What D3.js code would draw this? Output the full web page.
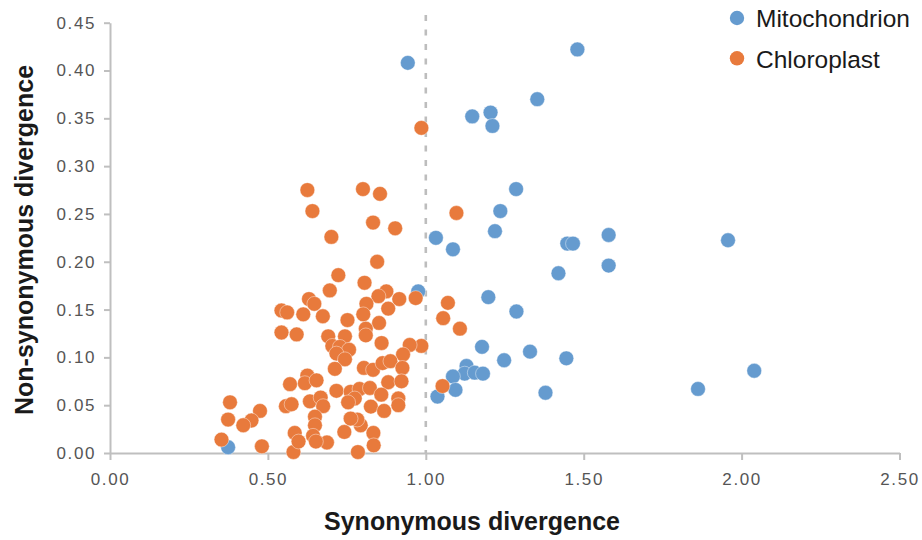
<!DOCTYPE html>
<html>
<head>
<meta charset="utf-8">
<script src="https://cdn.jsdelivr.net/npm/d3@7"></script>
<style>
  body { margin: 0; background: #fff; }
  svg { display: block; font-family: "Liberation Sans", Arial, sans-serif; }
</style>
</head>
<body>
<svg id="chart" width="922" height="540"></svg>
<script>
// series names / colours
const seriesNames = ['Mitochondrion', 'Chloroplast'];
const seriesColors = ['#659bcf', '#e87a3c'];

// [synonymous, non-synonymous]
const mitochondrion = [
  [0.943, 0.408], [1.480, 0.422], [1.353, 0.370], [1.147, 0.352], [1.205, 0.356],
  [1.211, 0.342], [1.286, 0.276], [1.236, 0.253], [1.032, 0.225], [1.219, 0.232],
  [1.086, 0.213], [1.448, 0.219], [1.466, 0.219], [1.579, 0.228], [1.579, 0.196],
  [1.420, 0.188], [0.976, 0.169], [1.198, 0.163], [1.287, 0.148], [1.178, 0.111],
  [1.330, 0.106], [1.445, 0.099], [1.248, 0.097], [1.129, 0.091], [1.123, 0.083],
  [1.155, 0.084], [1.181, 0.083], [1.086, 0.080], [1.094, 0.066], [1.037, 0.059],
  [1.379, 0.063], [1.862, 0.067], [1.957, 0.2225], [2.040, 0.086], [0.374, 0.006]
];

const chloroplast = [
  [0.986, 0.340], [1.097, 0.251], [0.625, 0.275], [0.801, 0.276], [0.855, 0.271],
  [0.641, 0.253], [0.833, 0.241], [0.903, 0.235], [0.701, 0.226], [0.846, 0.200],
  [0.723, 0.186], [0.806, 0.178], [0.696, 0.170], [0.875, 0.169], [0.850, 0.164],
  [0.916, 0.161], [0.968, 0.162], [0.630, 0.161], [0.647, 0.156], [0.812, 0.156],
  [0.881, 0.151], [0.543, 0.149], [0.561, 0.147], [0.612, 0.145], [0.674, 0.143],
  [0.752, 0.139], [0.802, 0.145], [1.070, 0.157], [1.055, 0.141], [1.108, 0.130],
  [0.986, 0.112], [1.053, 0.070], [0.852, 0.136], [0.810, 0.130], [0.810, 0.123],
  [0.543, 0.126], [0.591, 0.124], [0.691, 0.122], [0.744, 0.122], [0.704, 0.112],
  [0.728, 0.111], [0.757, 0.108], [0.717, 0.104], [0.744, 0.098], [0.860, 0.115],
  [0.949, 0.113], [0.928, 0.103], [0.804, 0.089], [0.833, 0.087], [0.863, 0.094],
  [0.888, 0.096], [0.926, 0.089], [0.712, 0.088], [0.881, 0.074], [0.923, 0.075],
  [0.570, 0.072], [0.625, 0.081], [0.617, 0.073], [0.654, 0.076], [0.717, 0.065],
  [0.762, 0.064], [0.790, 0.067], [0.823, 0.068], [0.859, 0.061], [0.775, 0.057],
  [0.754, 0.053], [0.826, 0.0485], [0.868, 0.044], [0.913, 0.057], [0.913, 0.050],
  [0.633, 0.054], [0.667, 0.058], [0.675, 0.049], [0.557, 0.049], [0.575, 0.051],
  [0.380, 0.053], [0.475, 0.044], [0.448, 0.034], [0.422, 0.029], [0.374, 0.035],
  [0.353, 0.014], [0.481, 0.007], [0.581, 0.001], [0.585, 0.021], [0.597, 0.012],
  [0.649, 0.038], [0.649, 0.029], [0.643, 0.018], [0.687, 0.011], [0.652, 0.012],
  [0.742, 0.022], [0.785, 0.001], [0.794, 0.029], [0.834, 0.021], [0.835, 0.008],
  [0.783, 0.035], [0.762, 0.036]
];

// axis ticks
const xTicks = [0, 0.5, 1, 1.5, 2, 2.5];
const yTicks = [0, 0.05, 0.1, 0.15, 0.2, 0.25, 0.3, 0.35, 0.4, 0.45];
const cutoff = 1.0;   // dashed reference line

// layout
const MARGIN = {left: 110, top: 22.7};
const AXIS_COLOR = '#bfbfbf';

const svg = d3.select('#chart');

const xScale = d3.scaleLinear()
    .domain([0, 2.5])
    .range([MARGIN.left, 899.5]);

const yScale = d3.scaleLinear()
    .domain([0, 0.45])
    .range([453, MARGIN.top]);

// x-axis //
const xAxis = svg.append('g')
    .attr('transform', `translate(0, ${yScale(0)})`)
    .call(d3.axisBottom(xScale).tickValues(xTicks).tickFormat(d3.format('.2f'))
        .tickSizeInner(7).tickSizeOuter(0).tickPadding(13));

// y-axis //
const yAxis = svg.append('g')
    .attr('transform', `translate(${xScale(0)}, 0)`)
    .call(d3.axisLeft(yScale).tickValues(yTicks).tickFormat(d3.format('.2f'))
        .tickSizeInner(6).tickSizeOuter(0).tickPadding(8));

[xAxis, yAxis].forEach((ax) => {
    ax.select('.domain').attr('stroke', AXIS_COLOR).attr('stroke-width', 2);
    ax.selectAll('.tick line').attr('stroke', AXIS_COLOR).attr('stroke-width', 2);
    ax.selectAll('.tick text')
        .attr('fill', '#555')
        .style('font-size', '17px')
        .style('letter-spacing', '1.6px')
        .style('font-family', '"Liberation Sans", Arial, sans-serif');
});

// axis titles
svg.append('text')
    .attr('x', 472)
    .attr('y', 530)
    .attr('text-anchor', 'middle')
    .style('font-size', '25px')
    .style('font-weight', 'bold')
    .attr('fill', '#1a1a1a')
    .text('Synonymous divergence');

svg.append('text')
    .attr('transform', 'rotate(-90)')
    .attr('x', -240)
    .attr('y', 33)
    .attr('text-anchor', 'middle')
    .style('font-size', '25px')
    .style('font-weight', 'bold')
    .attr('fill', '#1a1a1a')
    .text('Non-synonymous divergence');

// dashed line at synonymous = 1
svg.append('line')
    .attr('x1', xScale(cutoff))
    .attr('x2', xScale(cutoff))
    .attr('y1', 15)
    .attr('y2', yScale(0))
    .attr('stroke', '#bdbdbd')
    .attr('stroke-width', 2.6)
    .attr('stroke-dasharray', '6,8.5');

// points, chloroplast drawn over mitochondrion
const allSeries = [mitochondrion, chloroplast];
allSeries.forEach((data, i) => {
    svg.append('g')
        .selectAll('circle')
        .data(data)
        .enter()
        .append('circle')
        .attr('cx', (d) => xScale(d[0]))
        .attr('cy', (d) => yScale(d[1]))
        .attr('r', 7.4)
        .attr('fill', seriesColors[i])
        .attr('stroke', '#fff')
        .attr('stroke-opacity', 0.6)
        .attr('stroke-width', 0.7);
});

// legend
const legend = svg.append('g');
seriesNames.forEach((name, i) => {
    legend.append('circle')
        .attr('cx', 737)
        .attr('cy', 18 + i * 40.3)
        .attr('r', 7.2)
        .attr('fill', seriesColors[i]);
    legend.append('text')
        .attr('x', 756)
        .attr('y', 26.8 + i * 41)
        .style('font-size', '24.5px')
        .attr('fill', '#1a1a1a')
        .text(name);
});
</script>
</body>
</html>
